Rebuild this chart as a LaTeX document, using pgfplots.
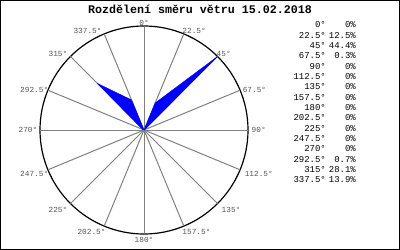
\documentclass[border=0pt]{standalone}
\usepackage{pgfplots}
\usepackage{pgfplotstable}
\pgfplotsset{compat=1.18}
\usepgfplotslibrary{polar}
\usepackage{fontspec}
\setmainfont{Liberation Mono}
\pgfplotstableread{
d p
0 0
22.5 12.5
45 44.4
67.5 0.3
90 0
112.5 0
135 0
157.5 0
180 0
202.5 0
225 0
247.5 0
270 0
292.5 0.7
315 28.1
337.5 13.9
360 0
}\winddata
\definecolor{lblgray}{RGB}{85,85,85}
\definecolor{spoke}{RGB}{128,128,128}
\begin{document}
\begin{tikzpicture}[x=1bp,y=1bp]
\useasboundingbox (0,0) rectangle (400,250);
\draw[black, line width=1.5bp] (0.75,0.75) rectangle (399.25,249.25);
\begin{polaraxis}[
  at={(144bp,120bp)}, anchor=center,
  scale only axis, width=208bp, height=208bp,
  ymin=0, ymax=44.4, ytick=\empty, xtick=\empty,
  xmajorgrids=false, ymajorgrids=false,
  x axis line style={black, line width=1.2bp},
  y axis line style={draw=none},
  clip=false,
]
\pgfplotsinvokeforeach{0,22.5,45,67.5,90,112.5,135,157.5,180,202.5,225,247.5,270,292.5,315,337.5}{
  \addplot[spoke, line width=1bp, mark=none] coordinates {(#1,0) (#1,44.4)};
}
\addplot[fill=blue, draw=blue, line width=0.4bp, mark=none] table[x expr={90-\thisrow{d}}, y=p] {\winddata};
\coordinate (c) at (axis cs:0,0);
\end{polaraxis}
\foreach \d/\an/\xs/\ys in {0/south/0/0, 22.5/west/-2/3, 45/west/-1.5/2.5, 67.5/west/2/0, 90/west/3/0, 112.5/west/4/-4, 135/west/3.5/-6.5, 157.5/west/-2/-6, 180/north/0/-2.5, 202.5/east/2/-6, 225/east/-2.5/-6.5, 247.5/east/1/-4, 270/east/-2/0, 292.5/east/1/0, 315/east/-2.5/2.5, 337.5/east/-2/3}{
  \node[anchor=\an, inner sep=0.5bp, text=lblgray, font=\fontsize{7.8}{8}\selectfont, xshift=\xs bp, yshift=\ys bp] at ([shift={({90-\d}:104)}]c) {\d°};
}
\node[font=\bfseries\fontsize{11.7}{12}\selectfont] at (200,241) {Rozdělení směru větru 15.02.2018};
\foreach \dd/\pp [count=\i from 0] in {0°/0\%,22.5°/12.5\%,45°/44.4\%,67.5°/0.3\%,90°/0\%,112.5°/0\%,135°/0\%,157.5°/0\%,180°/0\%,202.5°/0\%,225°/0\%,247.5°/0\%,270°/0\%,292.5°/0.7\%,315°/28.1\%,337.5°/13.9\%}{
  \node[anchor=east, inner sep=0pt, font=\fontsize{9}{10}\selectfont] at (326, {225-10.33*\i}) {\dd};
  \node[anchor=east, inner sep=0pt, font=\fontsize{9}{10}\selectfont] at (356, {225-10.33*\i}) {\pp};
}
\end{tikzpicture}
\end{document}
